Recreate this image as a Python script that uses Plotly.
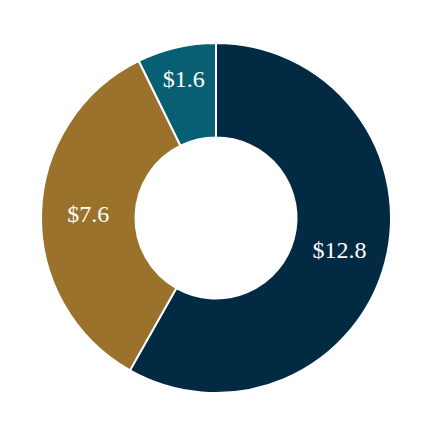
import plotly.graph_objects as go

labels = ["A", "B", "C"]
values = [12.8, 7.6, 1.6]
text_labels = ["$12.8", "$7.6", "$1.6"]
colors = ["#022A43", "#9B722C", "#085F73"]

fig = go.Figure(go.Pie(
    labels=labels,
    values=values,
    text=text_labels,
    textinfo="text",
    textposition="inside",
    insidetextorientation="horizontal",
    hole=0.46,
    sort=False,
    direction="clockwise",
    rotation=0,
    marker=dict(colors=colors, line=dict(color="white", width=2)),
    textfont=dict(family="Liberation Serif", size=24, color="white"),
    showlegend=False,
))
fig.update_layout(
    width=430, height=430,
    margin=dict(l=33, r=47, t=35, b=45),
    uniformtext=dict(minsize=24, mode="show"),
    paper_bgcolor="white",
    plot_bgcolor="white",
)
fig.write_html("out.html")
